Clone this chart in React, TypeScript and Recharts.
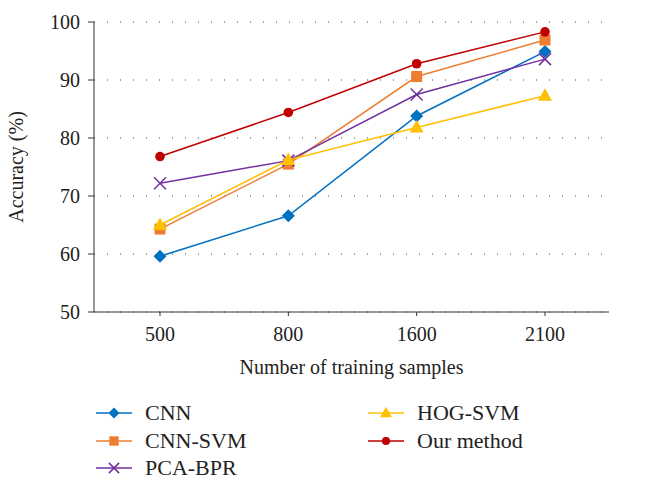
import { LineChart, Line, XAxis, YAxis, CartesianGrid } from "recharts";

const samples = ["500", "800", "1600", "2100"];
const cnn = [59.6, 66.6, 83.8, 94.9];
const cnnSvm = [64.3, 75.5, 90.6, 96.9];
const pcaBpr = [72.2, 76.1, 87.5, 93.6];
const hogSvm = [65.0, 76.2, 81.8, 87.3];
const ours = [76.8, 84.4, 92.8, 98.3];
const yTicks = [50, 60, 70, 80, 90, 100];

const data = samples.map((s, i) => ({
  samples: s,
  cnn: cnn[i],
  cnnSvm: cnnSvm[i],
  pcaBpr: pcaBpr[i],
  hogSvm: hogSvm[i],
  ours: ours[i],
}));

const FONT = "'Liberation Serif', 'DejaVu Serif', serif";

type Shape = "diamond" | "square" | "cross" | "triangle" | "circle";

function marker(shape: Shape, cx: number, cy: number, color: string, key?: string, k = 1) {
  switch (shape) {
    case "diamond":
      return <polygon key={key} points={`${cx},${cy - 6.5 * k} ${cx + 6.5 * k},${cy} ${cx},${cy + 6.5 * k} ${cx - 6.5 * k},${cy}`} fill={color} />;
    case "square":
      return <rect key={key} x={cx - 5.5 * k} y={cy - 5.5 * k} width={11 * k} height={11 * k} fill={color} />;
    case "cross":
      return (
        <g key={key} stroke={color} strokeWidth={1.5}>
          <line x1={cx - 6 * k} y1={cy - 6 * k} x2={cx + 6 * k} y2={cy + 6 * k} />
          <line x1={cx - 6 * k} y1={cy + 6 * k} x2={cx + 6 * k} y2={cy - 6 * k} />
        </g>
      );
    case "triangle":
      return <polygon key={key} points={`${cx},${cy - 7.5 * k} ${cx + 7 * k},${cy + 5 * k} ${cx - 7 * k},${cy + 5 * k}`} fill={color} />;
    default:
      return <circle key={key} cx={cx} cy={cy} r={4.8 * k} fill={color} />;
  }
}

const series: { key: string; name: string; color: string; shape: Shape }[] = [
  { key: "cnn", name: "CNN", color: "#0070C0", shape: "diamond" },
  { key: "cnnSvm", name: "CNN-SVM", color: "#ED7D31", shape: "square" },
  { key: "pcaBpr", name: "PCA-BPR", color: "#7030A0", shape: "cross" },
  { key: "hogSvm", name: "HOG-SVM", color: "#FFC000", shape: "triangle" },
  { key: "ours", name: "Our method", color: "#C00000", shape: "circle" },
];

const legendPos = [
  { x: 96, y: 413 },
  { x: 96, y: 441 },
  { x: 96, y: 468 },
  { x: 368, y: 413 },
  { x: 368, y: 441 },
];

export default function App() {
  return (
    <div style={{ position: "absolute", left: 0, top: 0, width: 654, height: 488, background: "#fff", fontFamily: FONT }}>
      <LineChart width={654} height={380} data={data} margin={{ top: 22, right: 45, bottom: 6, left: 0 }}>
        <CartesianGrid horizontal vertical={false} stroke="#444" strokeDasharray="1 12" />
        <XAxis
          dataKey="samples"
          type="category"
          padding={{ left: 66, right: 64 }}
          height={62}
          stroke="#333"
          tickSize={4}
          tickMargin={11}
          tick={{ fill: "#222", fontSize: 20, fontFamily: FONT }}
          label={{ value: "Number of training samples", position: "insideBottom", offset: 0, fill: "#222", fontSize: 20, fontFamily: FONT }}
        />
        <YAxis
          domain={[50, 100]}
          ticks={yTicks}
          width={94}
          stroke="#333"
          tickSize={6}
          tickMargin={8}
          tick={{ fill: "#222", fontSize: 20, fontFamily: FONT }}
          label={{ value: "Accuracy (%)", angle: -90, position: "insideLeft", offset: 16, fill: "#222", fontSize: 20, fontFamily: FONT, style: { textAnchor: "middle" } }}
        />
        {series.map((s) => (
          <Line
            key={s.key}
            dataKey={s.key}
            name={s.name}
            stroke={s.color}
            strokeWidth={1.5}
            isAnimationActive={false}
            dot={(p: any) => marker(s.shape, p.cx, p.cy, s.color, `${s.key}-${p.index}`)}
            activeDot={false}
          />
        ))}
      </LineChart>
      {series.map((s, i) => (
        <div key={s.key} style={{ position: "absolute", left: legendPos[i].x, top: legendPos[i].y - 12, height: 24, display: "flex", alignItems: "center" }}>
          <svg width={36} height={24}>
            <line x1={0} y1={12} x2={36} y2={12} stroke={s.color} strokeWidth={1.5} />
            {marker(s.shape, 18, 12, s.color, undefined, 0.85)}
          </svg>
          <span style={{ marginLeft: 13, fontSize: 22, color: "#222", lineHeight: "24px", whiteSpace: "nowrap" }}>{s.name}</span>
        </div>
      ))}
    </div>
  );
}
